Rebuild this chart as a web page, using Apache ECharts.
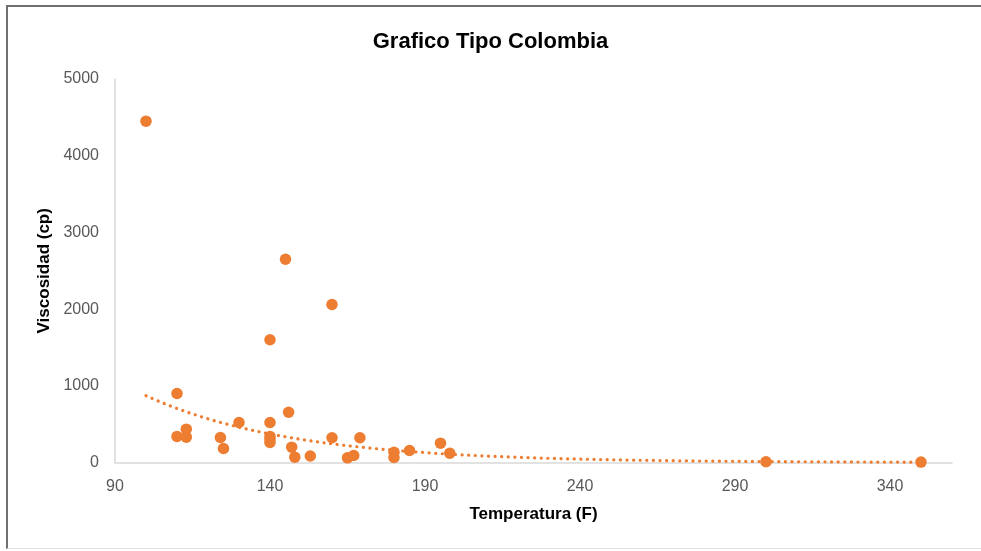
<!DOCTYPE html>
<html>
<head>
<meta charset="utf-8">
<script src="https://cdn.jsdelivr.net/npm/echarts@6/dist/echarts.min.js"></script>
<style>
html,body{margin:0;padding:0;background:#fff;}
#frame{position:absolute;left:6px;top:5px;width:975px;height:544px;border-left:2px solid #707070;border-top:2px solid #707070;border-bottom:1px solid #e3e3e3;box-sizing:border-box;}
#chart{position:absolute;left:0;top:0;width:981px;height:551px;}
</style>
</head>
<body>
<div id="frame"></div>
<div id="chart"></div>
<script>
const titleText = 'Grafico Tipo Colombia';
const xName = 'Temperatura (F)';
const yName = 'Viscosidad (cp)';
const temps = [100,110,110,113,113,124,125,130,140,140,140,140,140,145,146,147,148,153,160,160,165,167,169,180,180,185,195,198,300,350];
const visc  = [4450,900,340,435,330,326,183,522,1600,522,340,300,260,2650,655,200,70,85,2060,322,61,91,322,134,65,157,252,121,10,5];

// Exponential trendline (least squares on ln y), like Excel
const n = temps.length;
let sx=0, sy=0;
for (let i=0;i<n;i++){ sx+=temps[i]; sy+=Math.log(visc[i]); }
const mx=sx/n, my=sy/n;
let sxy=0, sxx=0;
for (let i=0;i<n;i++){ sxy+=(temps[i]-mx)*(Math.log(visc[i])-my); sxx+=(temps[i]-mx)*(temps[i]-mx); }
const b = sxy/sxx, lnA = my - b*mx;
const xMin = Math.min(...temps), xMax = Math.max(...temps);
const trend = [];
for (let x=xMin; x<=xMax; x+=1) trend.push([x, Math.exp(lnA + b*x)]);

const points = temps.map((t,i)=>[t, visc[i]]);
const orange = '#ED7D31';
const font = 'Liberation Sans';

const chart = echarts.init(document.getElementById('chart'));
chart.setOption({
  backgroundColor: 'transparent',
  animation: false,
  title: {
    text: titleText, left: 'center', top: 26,
    textStyle: { fontFamily: font, fontSize: 22, fontWeight: 'bold', color: '#000' }
  },
  grid: { left: 115, right: 29, top: 79, bottom: 88.5, containLabel: false },
  xAxis: {
    type: 'value', min: 90, max: 360, interval: 50,
    name: xName, nameLocation: 'middle', nameGap: 43,
    nameTextStyle: { fontFamily: font, fontSize: 17, fontWeight: 'bold', color: '#000' },
    axisLine: { show: true, lineStyle: { color: '#d9d9d9', width: 1.5 } },
    axisTick: { show: false },
    splitLine: { show: false },
    axisLabel: { fontFamily: font, fontSize: 16, color: '#595959', margin: 16, showMaxLabel: false }
  },
  yAxis: {
    type: 'value', min: 0, max: 5000, interval: 1000,
    name: yName, nameLocation: 'middle', nameGap: 48,
    nameTextStyle: { fontFamily: font, fontSize: 17, fontWeight: 'bold', color: '#000' },
    axisLine: { show: true, lineStyle: { color: '#d9d9d9', width: 1.5 } },
    axisTick: { show: false },
    splitLine: { show: false },
    axisLabel: { fontFamily: font, fontSize: 16, color: '#595959', margin: 16, formatter: v => String(v) }
  },
  series: [
    {
      type: 'line', data: trend, showSymbol: false, symbol: 'none', z: 1,
      lineStyle: { color: orange, width: 3.2, type: [0.1, 6.5], cap: 'round' }
    },
    {
      type: 'scatter', data: points, symbol: 'circle', symbolSize: 11.5, z: 2,
      itemStyle: { color: orange, opacity: 1 }
    }
  ]
});
</script>
</body>
</html>
